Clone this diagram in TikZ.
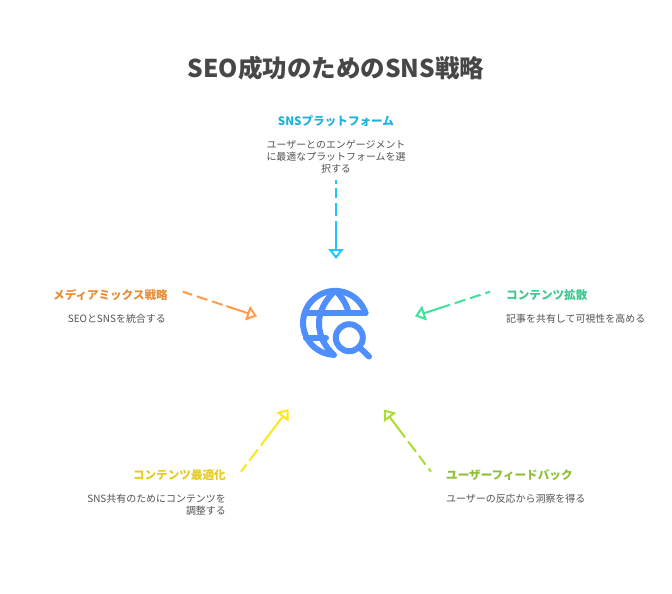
\documentclass[tikz,border=0pt]{standalone}
\usepackage{fontspec}
\setmainfont{Noto Sans CJK JP}
\usetikzlibrary{arrows.meta}
\definecolor{cTop}{HTML}{1EC8FF}\definecolor{cTopT}{HTML}{1EB0DE}
\definecolor{cLeft}{HTML}{FF9B4A}\definecolor{cLeftT}{HTML}{E88E38}
\definecolor{cRight}{HTML}{3DE29B}\definecolor{cRightT}{HTML}{3DC890}
\definecolor{cBL}{HTML}{FFE61A}\definecolor{cBLT}{HTML}{E5CB22}
\definecolor{cBR}{HTML}{AADD33}\definecolor{cBRT}{HTML}{90BF35}
\definecolor{cIcon}{HTML}{4E8EFF}
\tikzset{
  titletext/.style={font=\fontsize{24.5}{30}\selectfont\bfseries,text=black!72,inner sep=0pt},
  headtext/.style={font=\fontsize{11.6}{14}\selectfont\bfseries,inner sep=0pt},
  desctext/.style={font=\fontsize{9.95}{12}\selectfont,text=black!68,inner sep=0pt},
  conn/.style={line width=2pt,-{Triangle[open,length=10pt,width=15pt]}},
  iconline/.style={draw=cIcon,line width=6pt,line cap=round,line join=round},
}
\begin{document}
\begin{tikzpicture}[x=1pt,y=1pt,yscale=-1]
\useasboundingbox (0,0) rectangle (672,594);
\fill[white] (0,0) rectangle (672,594);
\node[titletext] (title) at (336,68) {SEO成功のためのSNS戦略};

\node[headtext,text=cTopT] (h1) at (336,121) {SNSプラットフォーム};
\node[desctext,align=center] (d1) at (336,156.6) {ユーザーとのエンゲージメント\\に最適なプラットフォームを選\\択する};

\node[headtext,text=cLeftT,anchor=east] (h2) at (168,295) {メディアミックス戦略};
\node[desctext,anchor=east] (d2) at (166,318.6) {SEOとSNSを統合する};

\node[headtext,text=cRightT,anchor=west] (h3) at (506,295) {コンテンツ拡散};
\node[desctext,anchor=west] (d3) at (506,318.6) {記事を共有して可視性を高める};

\node[headtext,text=cBLT,anchor=east] (h4) at (226,475) {コンテンツ最適化};
\node[desctext,align=right,anchor=east] (d4) at (226,504.6) {SNS共有のためにコンテンツを\\調整する};

\node[headtext,text=cBRT,anchor=west] (h5) at (446,475) {ユーザーフィードバック};
\node[desctext,anchor=west] (d5) at (446,498.6) {ユーザーの反応から洞察を得る};

% connector ends
\coordinate (s1) at (336,180); \coordinate (t1) at (336,259);
\coordinate (s2) at (182.7,291.7); \coordinate (t2) at (257,316.2);
\coordinate (s3) at (490,291.7); \coordinate (t3) at (415,316.2);
\coordinate (s4) at (241,471.7); \coordinate (t4) at (288.5,409);
\coordinate (s5) at (431,471.7); \coordinate (t5) at (384,409.5);

\draw[conn,draw=cTop,dash pattern=on 4pt off 4pt on 10pt off 5pt on 13pt off 5pt on 60pt off 1pt] (s1) -- (t1);
\draw[conn,draw=cLeft,dash pattern=on 10pt off 5pt on 11pt off 5pt on 11pt off 4pt on 50pt off 1pt] (s2) -- (t2);
\draw[conn,draw=cRight,dash pattern=on 5pt off 5pt on 11pt off 5pt on 11pt off 5pt on 50pt off 1pt] (s3) -- (t3);
\draw[conn,draw=cBL,dash pattern=on 9pt off 5pt on 14pt off 5pt on 60pt off 1pt] (s4) -- (t4);
\draw[conn,draw=cBR,dash pattern=on 4pt off 5pt on 11pt off 5pt on 13pt off 5pt on 60pt off 1pt] (s5) -- (t5);

% globe and magnifier icon
\draw[iconline] (365.5,313) arc[start angle=-18,end angle=-267,radius=32pt];
\draw[iconline] (305,313) -- (365.5,313);
\draw[iconline] (306,338) -- (326,338);
\draw[iconline] (335,291) .. controls (325,300) and (319,312) .. (319,323) .. controls (319,336) and (325,347) .. (334,355);
\draw[iconline] (336,291) .. controls (342,297) and (347,305) .. (348.5,313);
\draw[iconline] (349.3,337.7) circle[radius=13.5pt];
\draw[iconline] (360.7,348.5) -- (369,356.5);
\end{tikzpicture}
\end{document}
